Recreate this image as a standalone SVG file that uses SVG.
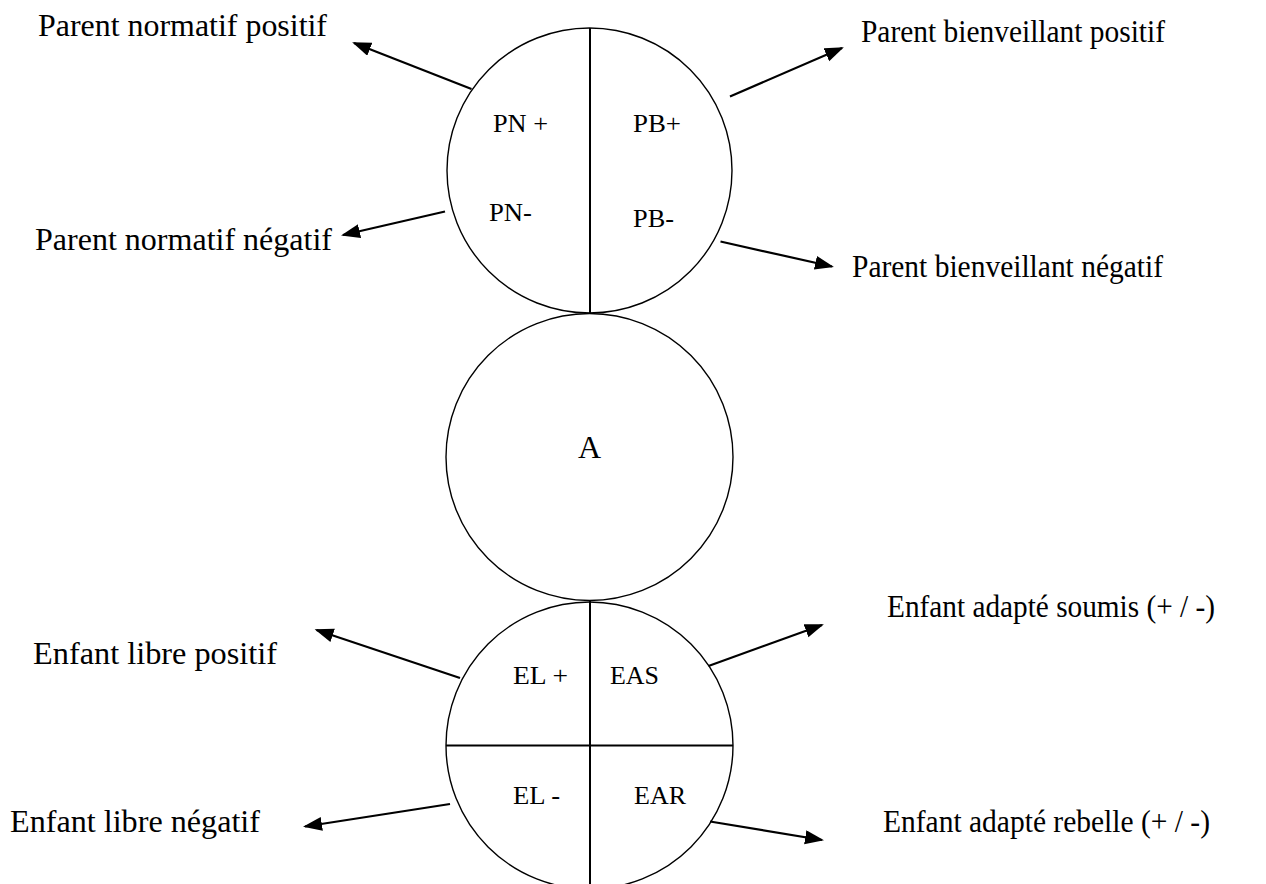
<svg xmlns="http://www.w3.org/2000/svg" width="1266" height="884" viewBox="0 0 1266 884">
<style>
.c{fill:#fff;stroke:#000;stroke-width:1.4}
.d{stroke:#000;stroke-width:2;fill:none}
.a{stroke:#000;stroke-width:2.2;fill:none;marker-end:url(#ah)}
.t{font-family:"Liberation Serif","Times New Roman",serif;font-size:32px;fill:#000}
.s{font-family:"Liberation Serif","Times New Roman",serif;font-size:26px;fill:#000}
</style>
<defs>
<marker id="ah" markerUnits="userSpaceOnUse" markerWidth="20" markerHeight="16" refX="17" refY="7" orient="auto" viewBox="0 0 20 16">
<path d="M0,0 L19,7 L0,14 z" fill="#000"/>
</marker>
</defs>
<rect width="1266" height="884" fill="#fff"/>
<g id="parent">
<circle class="c" cx="589.5" cy="170.5" r="142.5"/>
<line class="d" x1="590" y1="28" x2="590" y2="313"/>
<text class="s" x="493" y="132" textLength="55" lengthAdjust="spacingAndGlyphs">PN +</text>
<text class="s" x="633" y="132" textLength="48" lengthAdjust="spacingAndGlyphs">PB+</text>
<text class="s" x="489" y="221" textLength="43" lengthAdjust="spacingAndGlyphs">PN-</text>
<text class="s" x="633" y="227" textLength="41" lengthAdjust="spacingAndGlyphs">PB-</text>
</g>
<g id="adulte">
<circle class="c" cx="589.5" cy="457" r="143.5"/>
<text x="578" y="458" style="font-family:'Liberation Serif','Times New Roman',serif;font-size:32px">A</text>
</g>
<g id="enfant">
<circle class="c" cx="589.5" cy="745.5" r="143.5"/>
<line class="d" x1="590" y1="601" x2="590" y2="884"/>
<line class="d" x1="446" y1="745.5" x2="733" y2="745.5"/>
<text class="s" x="513" y="684" textLength="55" lengthAdjust="spacingAndGlyphs">EL +</text>
<text class="s" x="610" y="684" textLength="49" lengthAdjust="spacingAndGlyphs">EAS</text>
<text class="s" x="513" y="804" textLength="47" lengthAdjust="spacingAndGlyphs">EL -</text>
<text class="s" x="634" y="804" textLength="52" lengthAdjust="spacingAndGlyphs">EAR</text>
</g>
<g id="connectors">
<line class="a" x1="471.5" y1="89" x2="354" y2="43"/>
<line class="a" x1="445" y1="211.5" x2="343" y2="235"/>
<line class="a" x1="730" y1="96.5" x2="842" y2="48"/>
<line class="a" x1="720.5" y1="241.5" x2="832" y2="266.5"/>
<line class="a" x1="460" y1="678" x2="316.5" y2="630"/>
<line class="a" x1="450" y1="804" x2="305" y2="826.5"/>
<line class="a" x1="708.5" y1="666" x2="822" y2="625"/>
<line class="a" x1="710" y1="821.5" x2="822" y2="840"/>
</g>
<g id="labels">
<text class="t" x="38" y="36" textLength="289" lengthAdjust="spacingAndGlyphs">Parent normatif positif</text>
<text class="t" x="35" y="250" textLength="297" lengthAdjust="spacingAndGlyphs">Parent normatif négatif</text>
<text class="t" x="861" y="42" textLength="304" lengthAdjust="spacingAndGlyphs">Parent bienveillant positif</text>
<text class="t" x="852" y="277" textLength="311" lengthAdjust="spacingAndGlyphs">Parent bienveillant négatif</text>
<text class="t" x="33" y="664" textLength="244" lengthAdjust="spacingAndGlyphs">Enfant libre positif</text>
<text class="t" x="10" y="832" textLength="250" lengthAdjust="spacingAndGlyphs">Enfant libre négatif</text>
<text class="t" x="887" y="617" textLength="328" lengthAdjust="spacingAndGlyphs">Enfant adapté soumis (+ / -)</text>
<text class="t" x="883" y="832" textLength="327" lengthAdjust="spacingAndGlyphs">Enfant adapté rebelle (+ / -)</text>
</g>
</svg>
